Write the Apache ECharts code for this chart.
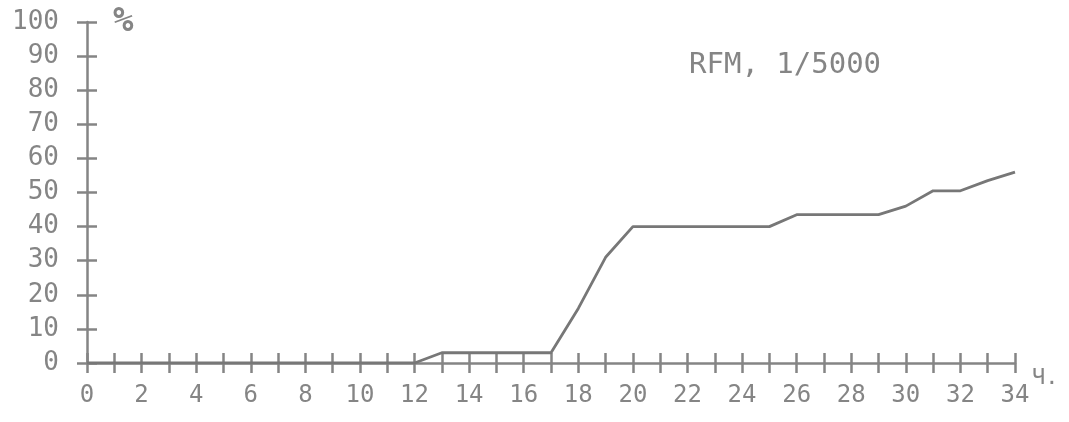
<!DOCTYPE html>
<html><head><meta charset="utf-8">
<script src="https://cdn.jsdelivr.net/npm/echarts@6/dist/echarts.min.js"></script>
<style>html,body{margin:0;padding:0;background:#fff}#c{width:1069px;height:422px}</style>
</head><body><div id="c"></div>
<script>
const hours = [0,1,2,3,4,5,6,7,8,9,10,11,12,13,14,15,16,17,18,19,20,21,22,23,24,25,26,27,28,29,30,31,32,33,34];
const percent = [0,0,0,0,0,0,0,0,0,0,0,0,0,3,3,3,3,3,16,31,40,40,40,40,40,40,43.5,43.5,43.5,43.5,46,50.5,50.5,53.5,56];
const yTicks = [0,10,20,30,40,50,60,70,80,90,100];
const title = 'RFM, 1/5000';
const yUnit = '%';
const xUnit = 'Ч.';

const col = '#858585';
const font = 'DejaVu Sans Mono';
const chart = echarts.init(document.getElementById('c'));
const pts = hours.map((h,i)=>[h, percent[i]]);
chart.setOption({
  animation:false,
  grid:{left:87,right:54,top:22,bottom:59},
  title:[
    {text:title,left:684,top:46,textStyle:{fontFamily:font,fontSize:29,fontWeight:'normal',color:col}},
    {text:yUnit,left:108,top:0,textStyle:{fontFamily:font,fontSize:34,fontWeight:'bold',color:col}},
    {text:xUnit,left:1027,top:362,textStyle:{fontFamily:font,fontSize:22,fontWeight:'normal',color:col}}
  ],
  xAxis:[
    {type:'value',min:0,max:34,interval:1,position:'bottom',
     axisLine:{lineStyle:{color:col,width:2.5}},
     axisTick:{show:true,inside:false,length:10,lineStyle:{color:col,width:2.5}},
     axisLabel:{margin:21,fontFamily:font,fontSize:24,color:col,
       formatter:v=> (v%2===0 ? String(v) : '')},
     splitLine:{show:false}},
    {type:'value',min:0,max:34,interval:1,position:'bottom',
     axisLine:{show:false},
     axisTick:{show:true,inside:true,length:10,lineStyle:{color:col,width:2.5}},
     axisLabel:{show:false},splitLine:{show:false}}
  ],
  yAxis:[
    {type:'value',min:0,max:100,interval:10,
     axisLine:{show:true,lineStyle:{color:col,width:2.5}},
     axisTick:{show:true,inside:false,length:10,lineStyle:{color:col,width:2.5}},
     axisLabel:{margin:28,fontFamily:font,fontSize:26,color:col,
       formatter:v=> yTicks.includes(v)?String(v):''},
     splitLine:{show:false}},
    {type:'value',min:0,max:100,interval:10,position:'left',
     axisLine:{show:false},
     axisTick:{show:true,inside:true,length:10,lineStyle:{color:col,width:2.5}},
     axisLabel:{show:false},splitLine:{show:false}}
  ],
  series:[{type:'line',data:pts,xAxisIndex:0,yAxisIndex:0,showSymbol:false,
    lineStyle:{color:'#777777',width:2.8}}]
});
</script></body></html>
